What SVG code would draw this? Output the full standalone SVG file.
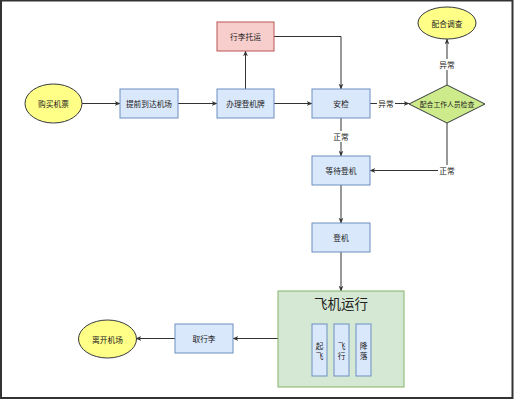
<svg xmlns="http://www.w3.org/2000/svg" width="514" height="400" viewBox="0 0 514 400">
<defs>
<style>
text{font-family:"Noto Sans CJK SC","Liberation Sans",sans-serif;font-size:7.7px;fill:#222;text-anchor:middle;dominant-baseline:central}
.blue{fill:#dae8fc;stroke:#6c8ebf;stroke-width:1}
.red{fill:#f8cecc;stroke:#b85450;stroke-width:1}
.yel{fill:#ffff88;stroke:#36393d;stroke-width:1}
.grn{fill:#cdeb8b;stroke:#36393d;stroke-width:1}
.cont{fill:#d5e8d4;stroke:#82b366;stroke-width:1}
.edge{fill:none;stroke:#333;stroke-width:1;marker-end:url(#arr)}
.lbl{fill:#fff;stroke:none}
</style>
<marker id="arr" viewBox="0 0 10 10" refX="9" refY="5" markerWidth="6" markerHeight="6" orient="auto" markerUnits="userSpaceOnUse">
<path d="M0,1 L10,5 L0,9 L3,5 Z" fill="#333"/>
</marker>
</defs>
<rect x="0" y="0" width="514" height="400" fill="#fff"/>
<rect x="1" y="0.5" width="511.5" height="397.5" fill="none" stroke="#333" stroke-width="2"/>
<g id="connectors">
<line class="edge" x1="82" y1="103.5" x2="120" y2="103.5"/>
<line class="edge" x1="178" y1="103.5" x2="217" y2="103.5"/>
<line class="edge" x1="245.5" y1="89" x2="245.5" y2="51"/>
<polyline class="edge" points="274,36.5 341,36.5 341,89"/>
<line class="edge" x1="274" y1="103.5" x2="312" y2="103.5"/>
<line class="edge" x1="370" y1="103.5" x2="409" y2="103.5"/>
<rect class="lbl" x="377" y="98" width="18" height="11"/>
<text x="386" y="103.5">异常</text>
<line class="edge" x1="447" y1="85" x2="447" y2="39"/>
<rect class="lbl" x="438" y="59" width="18" height="11"/>
<text x="447" y="64.5">异常</text>
<polyline class="edge" points="447,123 447,170.5 370,170.5"/>
<rect class="lbl" x="438" y="165" width="18" height="11"/>
<text x="447" y="170.5">正常</text>
<line class="edge" x1="341" y1="118" x2="341" y2="156"/>
<rect class="lbl" x="332" y="131" width="18" height="11"/>
<text x="341" y="136.5">正常</text>
<line class="edge" x1="341" y1="185" x2="341" y2="223"/>
<line class="edge" x1="341" y1="252" x2="341" y2="291"/>
<line class="edge" x1="278" y1="338.5" x2="233" y2="338.5"/>
<line class="edge" x1="175" y1="338.5" x2="136" y2="338.5"/>
</g>
<g id="buy"><ellipse class="yel" cx="53.5" cy="103.5" rx="28.5" ry="19.5"/><text x="53.5" y="103.5">购买机票</text></g>
<g id="arrive"><rect class="blue" x="120" y="89" width="58" height="29"/><text x="149" y="103.5">提前到达机场</text></g>
<g id="checkin"><rect class="blue" x="217" y="89" width="57" height="29"/><text x="245.5" y="103.5">办理登机牌</text></g>
<g id="baggage"><rect class="red" x="217" y="22" width="57" height="29"/><text x="245.5" y="36.5">行李托运</text></g>
<g id="security"><rect class="blue" x="312" y="89" width="58" height="29"/><text x="341" y="103.5">安检</text></g>
<g id="cooperate"><polygon class="grn" points="409,104 447,85 485,104 447,123"/><text x="447" y="104" style="font-size:6.8px">配合工作人员检查</text></g>
<g id="investigate"><ellipse class="yel" cx="447" cy="23" rx="29" ry="16"/><text x="447" y="23">配合调查</text></g>
<g id="wait"><rect class="blue" x="312" y="156" width="58" height="29"/><text x="341" y="170.5">等待登机</text></g>
<g id="board"><rect class="blue" x="312" y="223" width="58" height="29"/><text x="341" y="237.5">登机</text></g>
<g id="flight">
<rect class="cont" x="278" y="291" width="126" height="96"/>
<text x="341" y="303" style="font-size:13.5px">飞机运行</text>
<rect class="blue" x="312" y="324" width="15" height="52"/>
<text x="319.5" y="345">起</text><text x="319.5" y="355">飞</text>
<rect class="blue" x="334" y="324" width="15" height="52"/>
<text x="341.5" y="345">飞</text><text x="341.5" y="355">行</text>
<rect class="blue" x="356" y="324" width="15" height="52"/>
<text x="363.5" y="345">降</text><text x="363.5" y="355">落</text>
</g>
<g id="claim"><rect class="blue" x="175" y="324" width="58" height="29"/><text x="204" y="338.5">取行李</text></g>
<g id="leave"><ellipse class="yel" cx="107.5" cy="339" rx="29" ry="19"/><text x="107.5" y="339">离开机场</text></g>
</svg>
